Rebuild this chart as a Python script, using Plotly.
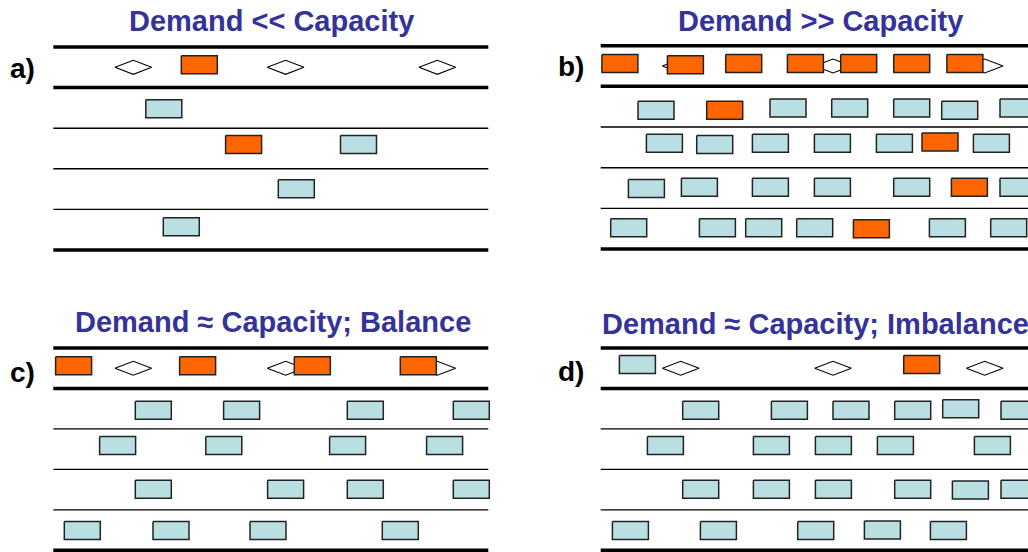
import plotly.graph_objects as go

# road position of each car (centre, along the road) and lane position (0 = top edge line)
# a) demand << capacity
a_blue_x = [110.5, 305.2, 243.0, 128.0]
a_blue_y = [1.52, 2.40, 3.49, 4.43]
a_orange_x = [146.0, 190.3]
a_orange_y = [0.44, 2.40]

# b) demand >> capacity
b_blue_x = [55.3, 187.3, 249.0, 311.0, 359.0, 417.3,
            63.7, 114.0, 169.7, 231.7, 293.7, 390.7,
            45.7, 98.7, 169.7, 231.7, 311.0, 417.3,
            28.0, 116.7, 163.0, 214.0, 346.7, 408.0]
b_blue_y = [1.59, 1.53, 1.53, 1.53, 1.59, 1.53,
            2.40, 2.43, 2.40, 2.40, 2.40, 2.40,
            3.51, 3.48, 3.48, 3.48, 3.48, 3.48,
            4.48, 4.48, 4.48, 4.48, 4.48, 4.48]
b_orange_x = [19.2, 84.7, 143.0, 204.7, 258.0, 311.0, 364.2, 124.0, 339.3, 368.7, 270.7]
b_orange_y = [0.44, 0.47, 0.44, 0.44, 0.44, 0.44, 0.44, 1.59, 2.37, 3.48, 4.50]

# c) demand ~ capacity, balanced
c_blue_x = [100.0, 188.3, 312.0, 418.0,
            64.3, 170.5, 294.3, 391.3,
            100.0, 232.3, 312.0, 418.0,
            29.0, 117.7, 214.7, 347.0]
c_blue_y = [1.54] * 4 + [2.41] * 4 + [3.49] * 4 + [4.51] * 4
c_orange_x = [20.3, 144.3, 259.0, 365.0]
c_orange_y = [0.44] * 4

# d) demand ~ capacity, imbalanced
d_blue_x = [36.7,
            100.0, 188.7, 250.3, 312.0, 360.0, 418.3,
            64.7, 170.7, 232.7, 294.7, 391.7,
            100.0, 170.7, 232.7, 312.0, 369.7, 418.3,
            29.7, 117.7, 215.0, 281.7, 347.7]
d_blue_y = [0.41,
            1.54, 1.54, 1.54, 1.54, 1.50, 1.54,
            2.41, 2.41, 2.41, 2.41, 2.41,
            3.49, 3.49, 3.49, 3.49, 3.51, 3.49,
            4.51, 4.51, 4.51, 4.50, 4.51]
d_orange_x = [321.0]
d_orange_y = [0.41]

# merge gaps (diamonds) in the top lane, same for every panel
gap_x = [80.0, 232.3, 384.0]
gap_y = 0.5

lane_lines = [0, 1, 2, 3, 4, 5]
thick_lines = [0, 1, 5]

titles = ['Demand << Capacity', 'Demand >> Capacity',
          'Demand \u2248 Capacity; Balance', 'Demand \u2248 Capacity; Imbalance']
labels = ['a)', 'b)', 'c)', 'd)']

W, H = 1028, 552
ROAD = 435.0
CAR_L, CAR_H = 36.0, 18.0
GAP_W, GAP_H = 36.7, 14.0
BLUE = '#badfe2'
ORANGE = '#ff6600'
TITLE_COLOR = '#333399'

# pixel boxes of the four roads: left edge, top line, bottom line
panels = [
    dict(left=53.3, top=47.0, bottom=250.0),
    dict(left=600.7, top=45.7, bottom=249.0),
    dict(left=53.3, top=348.0, bottom=550.3),
    dict(left=600.7, top=348.0, bottom=550.3),
]
title_pos = [(271, 21, 'center'), (820, 21, 'center'), (273, 322, 'center'), (600, 324, 'left')]
label_pos = [(8, 68), (556, 67), (8, 372), (556, 371)]

cars = [
    (a_blue_x, a_blue_y, a_orange_x, a_orange_y),
    (b_blue_x, b_blue_y, b_orange_x, b_orange_y),
    (c_blue_x, c_blue_y, c_orange_x, c_orange_y),
    (d_blue_x, d_blue_y, d_orange_x, d_orange_y),
]


def rect_path(xs, ys, w, h):
    px, py = [], []
    for x, y in zip(xs, ys):
        px += [x - w / 2, x + w / 2, x + w / 2, x - w / 2, x - w / 2, None]
        py += [y - h / 2, y - h / 2, y + h / 2, y + h / 2, y - h / 2, None]
    return px, py


def diamond_path(xs, y, w, h):
    px, py = [], []
    for x in xs:
        px += [x - w / 2, x, x + w / 2, x, x - w / 2, None]
        py += [y, y - h / 2, y, y + h / 2, y, None]
    return px, py


fig = go.Figure()
layout_axes = {}

for i, p in enumerate(panels):
    n = '' if i == 0 else str(i + 1)
    xa, ya = 'x' + n, 'y' + n
    lane_px = (p['bottom'] - p['top']) / 5.0
    car_h = CAR_H / lane_px
    gap_h = GAP_H / lane_px

    # visible window around the road, clamped to the figure
    v_left = p['left'] - 3
    v_right = min(p['left'] + ROAD + 3, W)
    v_top = p['top'] - 4
    v_bottom = min(p['bottom'] + 4, H)
    layout_axes['xaxis' + n] = dict(
        domain=[v_left / W, v_right / W],
        range=[v_left - p['left'], v_right - p['left']],
        anchor=ya, visible=False, fixedrange=True)
    layout_axes['yaxis' + n] = dict(
        domain=[1 - v_bottom / H, 1 - v_top / H],
        range=[(v_bottom - p['top']) / lane_px, (v_top - p['top']) / lane_px],
        anchor=xa, visible=False, fixedrange=True)

    # road lines
    for ln in lane_lines:
        fig.add_trace(go.Scatter(
            x=[0, ROAD], y=[ln, ln], mode='lines',
            line=dict(color='#000000', width=3.5 if ln in thick_lines else 1.4),
            xaxis=xa, yaxis=ya, hoverinfo='skip', showlegend=False))

    # gaps in the merge lane
    gx, gy = diamond_path(gap_x, gap_y, GAP_W, gap_h)
    fig.add_trace(go.Scatter(
        x=gx, y=gy, mode='lines', fill='toself', fillcolor='white',
        line=dict(color='#000000', width=1.1),
        xaxis=xa, yaxis=ya, hoverinfo='skip', showlegend=False))

    bx, by, ox, oy = cars[i]
    for xs, ys, col in [(bx, by, BLUE), (ox, oy, ORANGE)]:
        rx, ry = rect_path(xs, ys, CAR_L, car_h)
        fig.add_trace(go.Scatter(
            x=rx, y=ry, mode='lines', fill='toself', fillcolor=col,
            line=dict(color='#222222', width=1.5),
            xaxis=xa, yaxis=ya, hoverinfo='skip', showlegend=False))

annotations = []
for t, (tx, ty, anc) in zip(titles, title_pos):
    annotations.append(dict(
        text='<b>' + t + '</b>', x=tx / W, y=1 - ty / H, xref='paper', yref='paper',
        xanchor=anc, yanchor='middle', showarrow=False,
        font=dict(family='Liberation Sans, Arial', size=29, color=TITLE_COLOR)))
for t, (lx, ly) in zip(labels, label_pos):
    annotations.append(dict(
        text='<b>' + t + '</b>', x=lx / W, y=1 - ly / H, xref='paper', yref='paper',
        xanchor='left', yanchor='middle', showarrow=False,
        font=dict(family='Liberation Sans, Arial', size=28, color='#000000')))

fig.update_layout(
    width=W, height=H,
    margin=dict(l=0, r=0, t=0, b=0),
    paper_bgcolor='white', plot_bgcolor='white',
    showlegend=False,
    annotations=annotations,
    **layout_axes
)

fig.write_html('out.html', config={'displayModeBar': False},
               post_script="document.body.style.margin='0';")
